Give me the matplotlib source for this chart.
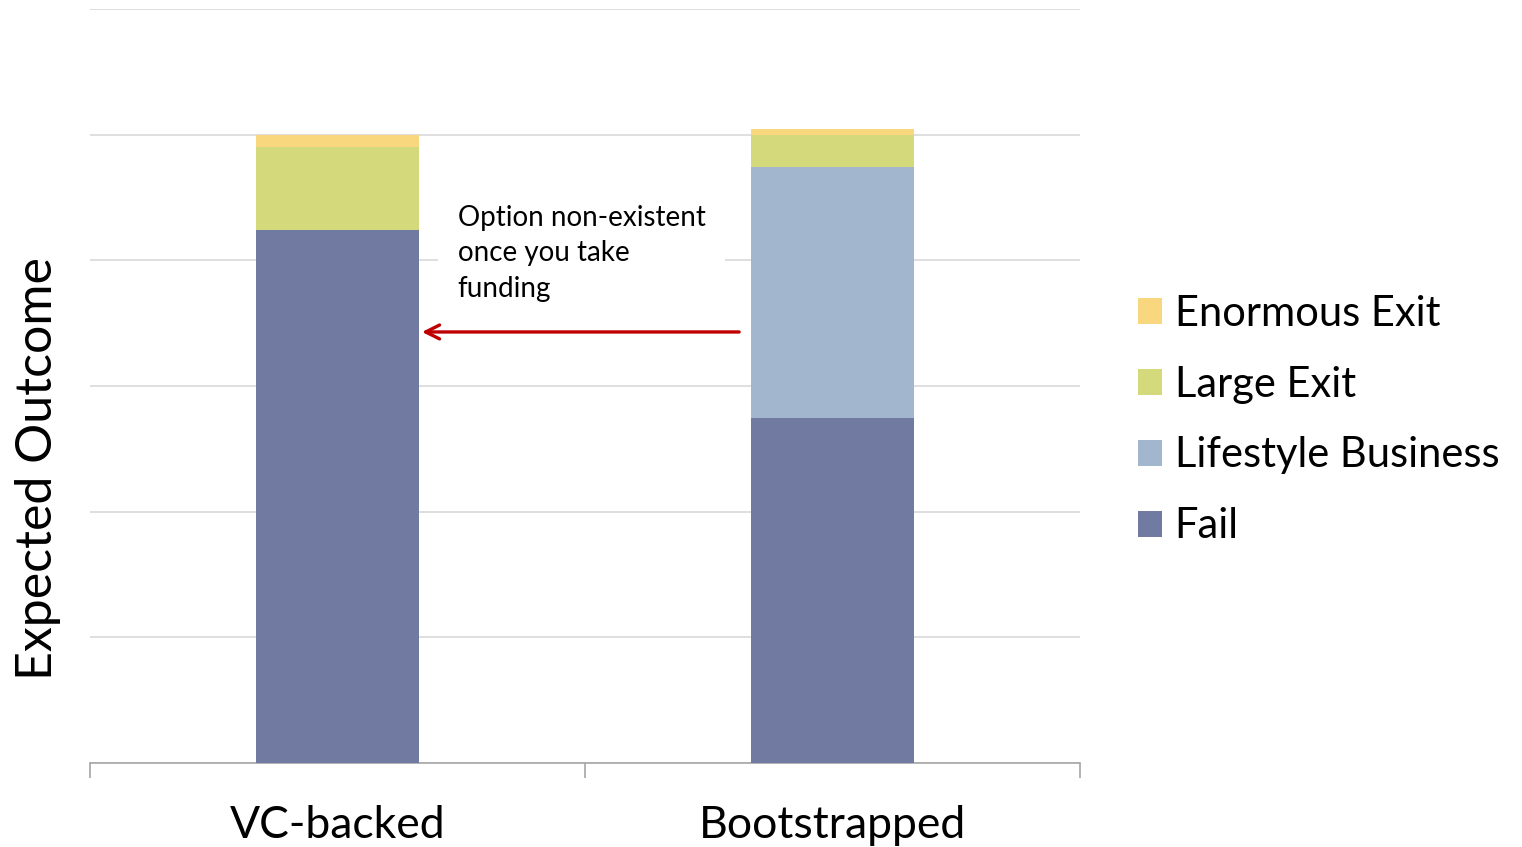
import matplotlib.pyplot as plt
import numpy as np

# data (in gridline units)
categories = ['VC-backed', 'Bootstrapped']
series = ['Fail', 'Lifestyle Business', 'Large Exit', 'Enormous Exit']
fail = [4.24, 2.745]
lifestyle = [0.0, 2.0]
large_exit = [0.66, 0.254]
enormous_exit = [0.10, 0.048]
colors = ['#717BA2', '#A2B7CE', '#D4DA7C', '#F9D77E']

plt.rcParams['font.family'] = ['Lato', 'DejaVu Sans']

fig = plt.figure(figsize=(15.22, 8.47), dpi=100)
ax = fig.add_axes([90 / 1522, 84 / 847, 990 / 1522, 754 / 847])

x = np.arange(len(categories))
bottom = np.zeros(len(categories))
handles = []
for vals, name, col in zip([fail, lifestyle, large_exit, enormous_exit], series, colors):
    b = ax.bar(x, vals, bottom=bottom, width=0.33, color=col, label=name, zorder=3)
    handles.append(b)
    bottom += np.array(vals)

ax.set_xlim(-0.5, 1.5)
ax.set_ylim(0, 6)
ax.set_yticks(np.arange(0, 7, 1))
ax.yaxis.grid(True, color='#D9D9D9', linewidth=1.2, zorder=0)
ax.tick_params(axis='y', left=False, labelleft=False)
for s in ['top', 'right', 'left']:
    ax.spines[s].set_visible(False)
ax.spines['bottom'].set_color('#A6A6A6')
ax.spines['bottom'].set_linewidth(1.2)

ax.set_xticks(x)
ax.set_xticklabels(categories, fontsize=32)
ax.tick_params(axis='x', length=0, pad=30)
ax.set_xticks([-0.5, 0.5, 1.5], minor=True)
ax.tick_params(axis='x', which='minor', length=11, width=1.2, color='#A6A6A6')

ax.set_ylabel('Expected Outcome', fontsize=36)
ax.yaxis.set_label_coords(-0.029, 0.391)

# annotation text + arrow
ax.text(0.243, 4.44, 'Option non-existent\nonce you take\nfunding', fontsize=20,
        va='top', ha='left', linespacing=1.45, zorder=4,
        bbox=dict(facecolor='white', edgecolor='none', pad=14))
ax.annotate('', xy=(0.165, 3.43), xytext=(0.817, 3.43),
            arrowprops=dict(arrowstyle='->,head_length=1.0,head_width=0.5',
                            color='#C00000', lw=2.4), zorder=5)

leg = fig.legend(handles[::-1], series[::-1], loc='center left',
                 bbox_to_anchor=(1138 / 1522, 1 - 420 / 847), frameon=False,
                 fontsize=30, handlelength=0.58, handleheight=0.58,
                 handletextpad=0.3, labelspacing=0.79, borderpad=0, borderaxespad=0)

fig.savefig('out.png', dpi=100)
